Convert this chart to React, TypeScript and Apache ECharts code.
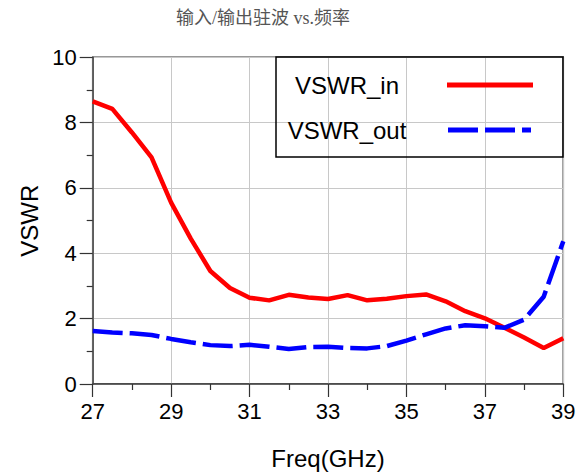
import React, { useEffect, useRef } from "react";
import * as echarts from "echarts";

const titleText = "输入/输出驻波 vs.频率";
const xName = "Freq(GHz)";
const yName = "VSWR";
const seriesNames = ["VSWR_in", "VSWR_out"];

const freq = [27, 27.5, 28, 28.5, 29, 29.5, 30, 30.5, 31, 31.5, 32, 32.5, 33, 33.5, 34, 34.5, 35, 35.5, 36, 36.5, 37, 37.5, 38, 38.5, 39];
const vswrIn = [8.65, 8.42, 7.7, 6.94, 5.55, 4.45, 3.46, 2.94, 2.64, 2.56, 2.73, 2.65, 2.6, 2.72, 2.56, 2.61, 2.69, 2.74, 2.53, 2.23, 2.01, 1.72, 1.42, 1.1, 1.4];
const vswrOut = [1.62, 1.58, 1.55, 1.5, 1.38, 1.28, 1.19, 1.16, 1.2, 1.14, 1.07, 1.13, 1.14, 1.1, 1.09, 1.16, 1.33, 1.52, 1.7, 1.8, 1.77, 1.72, 1.97, 2.67, 4.37];

const xMin = 27, xMax = 39, xStep = 2;
const yMin = 0, yMax = 10, yStep = 2;

const FONT = "'Liberation Sans', Arial, sans-serif";

export default function App() {
  const ref = useRef<HTMLDivElement>(null);
  useEffect(() => {
    if (!ref.current) return;
    const chart = echarts.init(ref.current, undefined, { renderer: "svg" });
    const axisCommon = {
      axisLine: { show: true, lineStyle: { color: "#444", width: 1.5 } },
      axisTick: { show: true, length: 13, lineStyle: { color: "#333", width: 1.2 } },
      minorTick: { show: true, splitNumber: 2, length: 6, lineStyle: { color: "#333", width: 1.2 } },
      splitLine: { show: true, lineStyle: { color: "#c8c8c8", width: 1 } },
      axisLabel: { color: "#000", fontSize: 22, fontFamily: FONT, margin: 16 },
      nameTextStyle: { color: "#000", fontSize: 24, fontFamily: FONT },
    };
    chart.setOption({
      animation: false,
      backgroundColor: "#fff",
      grid: {
        left: 92.7, top: 57.3, right: 21.7, bottom: 91,
        show: true, borderColor: "#333", borderWidth: 1.5, backgroundColor: "transparent",
      },
      xAxis: {
        type: "value", min: xMin, max: xMax, interval: xStep,
        name: xName, nameLocation: "middle", nameGap: 62,
        ...axisCommon,
      },
      yAxis: {
        type: "value", min: yMin, max: yMax, interval: yStep,
        name: yName, nameLocation: "middle", nameGap: 50, nameRotate: 90,
        ...axisCommon,
      },
      series: [
        {
          name: seriesNames[0], type: "line", showSymbol: false,
          data: freq.map((f, i) => [f, vswrIn[i]]),
          lineStyle: { color: "#ff0000", width: 4.5 },
          itemStyle: { color: "#ff0000" },
          z: 3,
        },
        {
          name: seriesNames[1], type: "line", showSymbol: false,
          data: freq.map((f, i) => [f, vswrOut[i]]),
          lineStyle: { color: "#0000ff", width: 4.5, type: [30, 7], cap: "butt" },
          itemStyle: { color: "#0000ff" },
          z: 4,
        },
      ],
      graphic: [
        {
          type: "text", x: 263, y: 18, z: 10,
          style: { text: titleText, fill: "#555", fontSize: 18, fontFamily: "'Liberation Serif', 'Noto Sans CJK SC', serif", align: "center", verticalAlign: "middle" },
        },
        {
          type: "rect", z: 10,
          shape: { x: 276, y: 57, width: 287, height: 100 },
          style: { fill: "none", stroke: "#000", lineWidth: 1.5 },
        },
        {
          type: "text", x: 347, y: 85, z: 10,
          style: { text: seriesNames[0], fill: "#000", fontSize: 24, fontFamily: FONT, align: "center", verticalAlign: "middle" },
        },
        {
          type: "line", z: 10,
          shape: { x1: 447, y1: 85, x2: 533, y2: 85 },
          style: { stroke: "#ff0000", lineWidth: 5 },
        },
        {
          type: "text", x: 347, y: 130, z: 10,
          style: { text: seriesNames[1], fill: "#000", fontSize: 24, fontFamily: FONT, align: "center", verticalAlign: "middle" },
        },
        {
          type: "line", z: 10,
          shape: { x1: 448, y1: 130, x2: 531, y2: 130 },
          style: { stroke: "#0000ff", lineWidth: 5, lineDash: [30, 7] },
        },
      ],
    });
    return () => chart.dispose();
  }, []);
  return <div ref={ref} style={{ position: "fixed", left: 0, top: 0, width: 585, height: 475 }} />;
}
